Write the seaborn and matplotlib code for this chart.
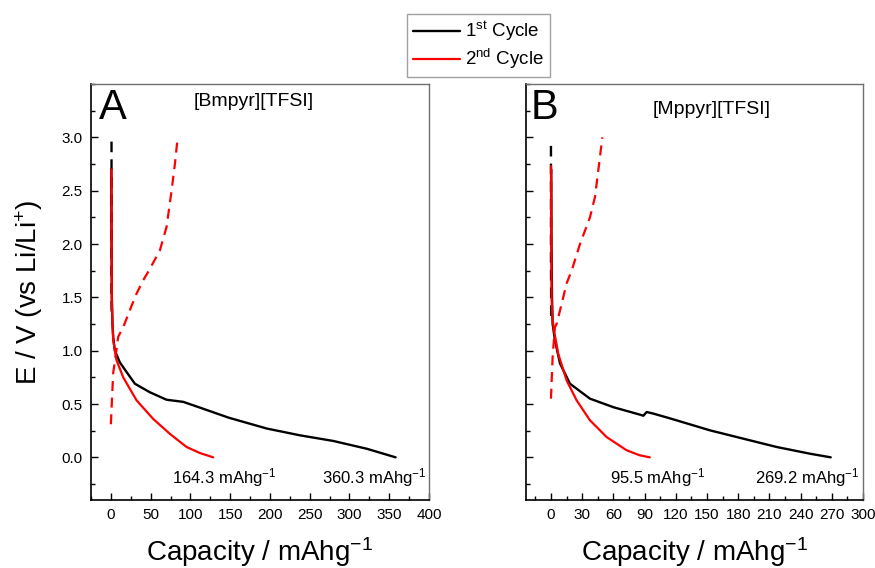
import matplotlib
matplotlib.use("Agg")
import matplotlib.pyplot as plt
import seaborn as sns
import pandas as pd
from matplotlib.ticker import MultipleLocator, FixedLocator

# ---------------- data ----------------
# Panel A : [Bmpyr][TFSI]
capA_1st_dis = [0.6, 0.8, 1.2, 2.0, 3.0, 5.0, 11.3, 19.7, 30.2, 49, 70, 91, 112, 148, 196, 238, 280, 322, 358]
vA_1st_dis = [2.70, 2.0, 1.5, 1.25, 1.12, 1.0, 0.89, 0.80, 0.69, 0.61, 0.54, 0.52, 0.466, 0.372, 0.27, 0.206, 0.153, 0.08, 0.0]
capA_1st_chg = [0.8, 0.8, 1.0]
vA_1st_chg = [2.96, 1.6, 1.3]
capA_2nd_dis = [0.8, 0.9, 1.2, 2.0, 2.9, 7.1, 15.5, 32.3, 53.2, 74.2, 95.2, 112, 128.7]
vA_2nd_dis = [2.70, 2.0, 1.47, 1.25, 1.10, 0.91, 0.75, 0.534, 0.36, 0.22, 0.097, 0.04, 0.0]
capA_2nd_chg = [0.0, 1.7, 2.9, 5.0, 9.2, 15.5, 26, 32, 40.6, 47, 61.6, 70, 76.3, 80.5, 84]
vA_2nd_chg = [0.31, 0.60, 0.79, 0.90, 1.13, 1.22, 1.42, 1.53, 1.66, 1.74, 1.94, 2.16, 2.50, 2.75, 3.0]

# Panel B : [Mppyr][TFSI]
capB_1st_dis = [0.3, 0.5, 1.0, 1.6, 3.8, 8.7, 18.3, 37.5, 60, 85.6, 88.8, 92, 98.4, 112.8, 152.9, 184.9, 217, 249, 269]
vB_1st_dis = [2.70, 2.0, 1.5, 1.25, 1.10, 0.88, 0.69, 0.55, 0.47, 0.40, 0.39, 0.425, 0.41, 0.37, 0.253, 0.175, 0.097, 0.034, 0.0]
capB_1st_chg = [0.0, 0.0, 0.3]
vB_1st_chg = [2.92, 1.8, 1.3]
capB_2nd_dis = [0.0, 0.3, 0.7, 1.5, 2.9, 7.0, 15.1, 24.7, 37.5, 53.5, 72.8, 85, 95]
vB_2nd_dis = [2.73, 2.0, 1.47, 1.30, 1.19, 0.97, 0.72, 0.534, 0.347, 0.19, 0.066, 0.02, 0.0]
capB_2nd_chg = [0.0, 0.6, 1.6, 3.8, 5.4, 10.3, 15, 19.9, 27.9, 37.5, 42.3, 45.5, 49.4]
vB_2nd_chg = [0.55, 0.70, 0.94, 1.22, 1.25, 1.44, 1.63, 1.75, 2.0, 2.25, 2.44, 2.69, 3.0]

legend_labels = ["1$^{st}$ Cycle", "2$^{nd}$ Cycle"]
panel_titles = ["[Bmpyr][TFSI]", "[Mppyr][TFSI]"]
panel_letters = ["A", "B"]
y_major_ticks = [0.0, 0.5, 1.0, 1.5, 2.0, 2.5, 3.0]
annotA = [(77, "164.3 mAhg$^{-1}$"), (265, "360.3 mAhg$^{-1}$")]
annotB = [(57, "95.5 mAhg$^{-1}$"), (196, "269.2 mAhg$^{-1}$")]

# ---------------- style ----------------
sns.set_style("ticks")
plt.rcParams["font.family"] = ["Liberation Sans", "DejaVu Sans"]
plt.rcParams["mathtext.default"] = "regular"
for k in ["text.color", "axes.labelcolor", "xtick.color", "ytick.color"]:
    plt.rcParams[k] = "black"

fig = plt.figure(figsize=(8.75, 5.68), dpi=100)
W, H = 875, 568
axA = fig.add_axes([91 / W, 1 - 500 / H, 338 / W, 416 / H])
axB = fig.add_axes([526 / W, 1 - 500 / H, 337 / W, 416 / H])

dash = (0, (4.5, 3.0))


def draw(ax, c1d, v1d, c1c, v1c, c2d, v2d, c2c, v2c):
    lines = {}
    sns.lineplot(x=c1c, y=v1c, ax=ax, color="black", lw=1.7, linestyle=dash,
                 sort=False, estimator=None)
    sns.lineplot(x=c1d, y=v1d, ax=ax, color="black", lw=1.7,
                 sort=False, estimator=None)
    lines["k"] = ax.lines[-1]
    sns.lineplot(x=c2c, y=v2c, ax=ax, color="#ff0000", lw=1.6, linestyle=dash,
                 sort=False, estimator=None)
    sns.lineplot(x=c2d, y=v2d, ax=ax, color="#ff0000", lw=1.6,
                 sort=False, estimator=None)
    lines["r"] = ax.lines[-1]
    return lines


hA = draw(axA, capA_1st_dis, vA_1st_dis, capA_1st_chg, vA_1st_chg,
          capA_2nd_dis, vA_2nd_dis, capA_2nd_chg, vA_2nd_chg)
hB = draw(axB, capB_1st_dis, vB_1st_dis, capB_1st_chg, vB_1st_chg,
          capB_2nd_dis, vB_2nd_dis, capB_2nd_chg, vB_2nd_chg)

for ax, xlim, major, minor in [(axA, (-25, 400), 50, 25), (axB, (-24, 300), 30, 15)]:
    ax.set_xlim(*xlim)
    ax.set_ylim(-0.4, 3.5)
    ax.xaxis.set_major_locator(MultipleLocator(major))
    ax.xaxis.set_minor_locator(MultipleLocator(minor))
    ax.yaxis.set_major_locator(FixedLocator(y_major_ticks))
    ax.yaxis.set_minor_locator(MultipleLocator(0.25))
    ax.tick_params(which="both", direction="in", top=False, right=False,
                   width=1, color="black", labelsize=11, pad=6)
    ax.tick_params(which="major", length=5)
    ax.tick_params(which="minor", length=3)
    for s in ["left", "bottom"]:
        ax.spines[s].set_color("black")
        ax.spines[s].set_linewidth(1.2)
    for s in ["top", "right"]:
        ax.spines[s].set_color("#707070")
        ax.spines[s].set_linewidth(1.0)
    ax.set_xlabel("Capacity / mAhg$^{-1}$", fontsize=20, labelpad=9.5)
    ax.set_ylabel("")

axB.tick_params(labelleft=False)
axA.set_ylabel("E / V (vs Li/Li$^{+}$)", fontsize=20, labelpad=12)

axA.text(0.48, 0.957, panel_titles[0], transform=axA.transAxes, fontsize=14,
         ha="center", va="center")
axB.text(0.552, 0.9375, panel_titles[1], transform=axB.transAxes, fontsize=14,
         ha="center", va="center")
axA.text(0.065, 0.942, panel_letters[0], transform=axA.transAxes, fontsize=30,
         ha="center", va="center")
axB.text(0.056, 0.942, panel_letters[1], transform=axB.transAxes, fontsize=30,
         ha="center", va="center")

for ax, ann in [(axA, annotA), (axB, annotB)]:
    for x, t in ann:
        ax.text(x, -0.19, t, fontsize=12, ha="left", va="center")

leg = fig.legend(handles=[hA["k"], hA["r"]], labels=legend_labels,
                 loc="upper left", bbox_to_anchor=(407 / W, 1 - 14 / H),
                 fontsize=13.5, frameon=True, fancybox=False, borderaxespad=0,
                 borderpad=0.3, labelspacing=0.22, handlelength=2.5,
                 handletextpad=0.3)
leg.get_frame().set_edgecolor("#8a8a8a")
leg.get_frame().set_linewidth(1.0)

fig.savefig("out.png", dpi=100)
